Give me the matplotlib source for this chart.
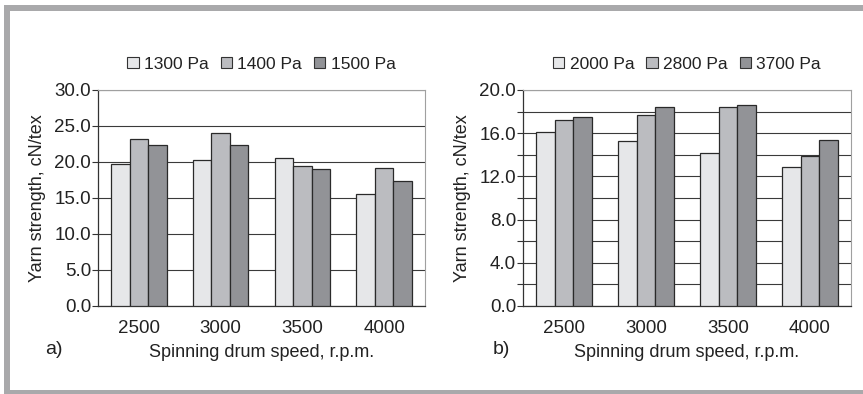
import matplotlib.pyplot as plt
import matplotlib.patches as mpatches
import numpy as np

plt.rcParams['font.family'] = ['Liberation Sans', 'DejaVu Sans']

# Data
speeds = ["2500", "3000", "3500", "4000"]

labels_a = ["1300 Pa", "1400 Pa", "1500 Pa"]
p1300 = [19.7, 20.3, 20.5, 15.6]
p1400 = [23.2, 24.0, 19.4, 19.1]
p1500 = [22.4, 22.4, 19.0, 17.4]

labels_b = ["2000 Pa", "2800 Pa", "3700 Pa"]
p2000 = [16.1, 15.3, 14.2, 12.9]
p2800 = [17.2, 17.7, 18.4, 13.9]
p3700 = [17.5, 18.4, 18.6, 15.4]

colors = ["#e6e7e9", "#bbbcc0", "#929397"]
text_col = "#222222"

fig = plt.figure(figsize=(8.63, 3.94), dpi=100)

# gray frame like the journal figure box
fig.patches.append(mpatches.Rectangle((4 / 863, 1 - 11 / 394), 1, 6 / 394, transform=fig.transFigure,
                                      color="#a9a9ab", lw=0))
fig.patches.append(mpatches.Rectangle((4 / 863, 0), 6 / 863, 1 - 5 / 394, transform=fig.transFigure,
                                      color="#a9a9ab", lw=0))
fig.patches.append(mpatches.Rectangle((4 / 863, 0), 1, 4 / 394, transform=fig.transFigure,
                                      color="#a9a9ab", lw=0))


def panel(rect, series, labels, ymax, step, tick_step, letter, letter_x, leg_x):
    ax = fig.add_axes(rect)
    x = np.arange(len(speeds))
    w = 0.226
    for i, (vals, lab) in enumerate(zip(series, labels)):
        ax.bar(x + (i - 1) * w, vals, w, color=colors[i], edgecolor="#2a2a2a",
               linewidth=0.9, label=lab, zorder=3)
    ax.set_xlim(-0.5, len(speeds) - 0.5)
    ax.set_ylim(0, ymax)
    ax.set_xticks(x)
    ax.set_xticklabels(speeds, fontsize=13.5, color=text_col)
    ax.tick_params(axis="x", length=0, pad=10)
    ax.set_yticks(np.arange(0, ymax + 0.01, step))
    ax.set_yticklabels(["%.1f" % v if abs(v / tick_step - round(v / tick_step)) < 1e-6 else ""
                        for v in np.arange(0, ymax + 0.01, step)], fontsize=13.5, color=text_col)
    ax.tick_params(axis="y", length=4, width=0.8, color="#333333", pad=1)
    ax.grid(axis="y", color="#3a3a3a", linewidth=0.8, zorder=0)
    for s in ["top", "right"]:
        ax.spines[s].set_color("#a0a0a0")
        ax.spines[s].set_linewidth(0.8)
    for s in ["left", "bottom"]:
        ax.spines[s].set_color("#333333")
        ax.spines[s].set_linewidth(0.9)
    ax.set_ylabel("Yarn strength, cN/tex", fontsize=13, color=text_col, labelpad=6)
    ax.set_xlabel("Spinning drum speed, r.p.m.", fontsize=13, color=text_col, labelpad=5)
    leg = ax.legend(loc="lower center", bbox_to_anchor=(leg_x, 1.085), ncol=3, frameon=False,
                    fontsize=12.5, handlelength=0.65, handleheight=0.65, handletextpad=0.3,
                    columnspacing=0.7, labelcolor=text_col, borderpad=0, borderaxespad=0)
    for h in leg.legend_handles:
        h.set_edgecolor("#333333")
        h.set_linewidth(0.8)
    fig.text(letter_x, 1 - 350 / 394, letter, fontsize=14, color=text_col, va="center")
    return ax


panel([98 / 863, 1 - 306 / 394, 327 / 863, 216 / 394], [p1300, p1400, p1500], labels_a,
      30, 5, 5, "a)", 45 / 863, 0.50)
panel([523 / 863, 1 - 306 / 394, 328 / 863, 216 / 394], [p2000, p2800, p3700], labels_b,
      20, 2, 4, "b)", 493 / 863, 0.50)

fig.savefig("out.png", dpi=100)
